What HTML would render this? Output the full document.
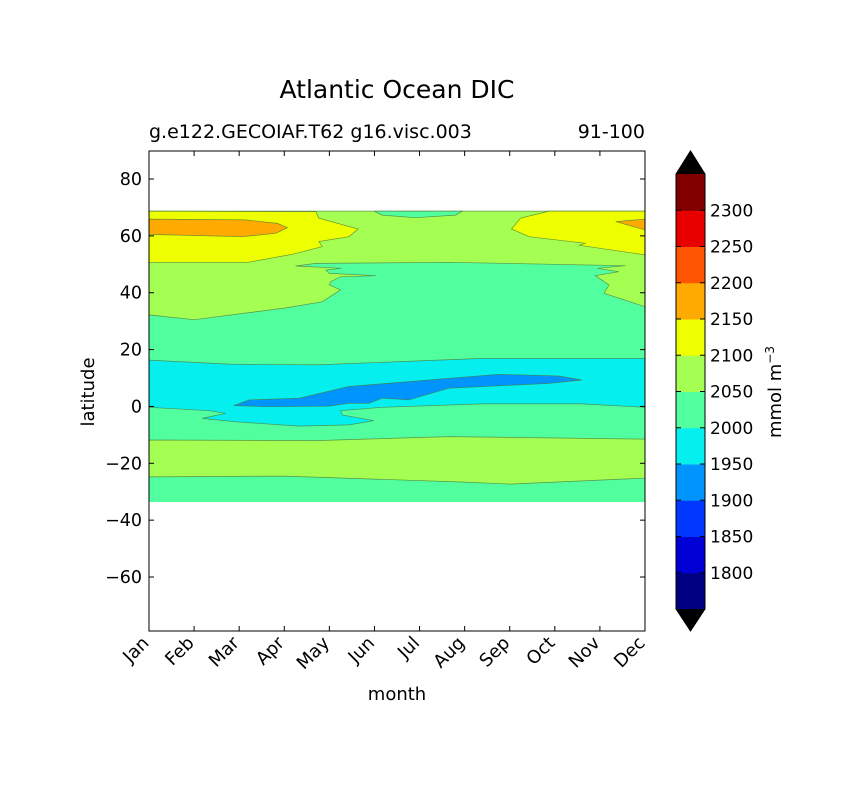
<!DOCTYPE html>
<html><head><meta charset="utf-8"><style>
body{margin:0;background:#fff}
svg text{font-family:"DejaVu Sans","Liberation Sans",sans-serif;fill:#000}
</style></head><body>
<svg id="c" width="866" height="783" xmlns="http://www.w3.org/2000/svg">
<rect width="866" height="783" fill="#fff"/>
<g id="fills"></g>
<g id="axes"></g>
</svg>
<script>
const months=["Jan","Feb","Mar","Apr","May","Jun","Jul","Aug","Sep","Oct","Nov","Dec"];
const yTicks=[80,60,40,20,0,-20,-40,-60];
const levels=[1750,1800,1850,1900,1950,2000,2050,2100,2150,2200,2250,2300,2350];
const levelColors=["#000080","#0000d6","#0038ff","#0094ff","#06efef","#52ff9f","#a5ff52","#eeff00","#ffaa00","#ff5500","#e80000","#800000"];
const cbLabels=[1800,1850,1900,1950,2000,2050,2100,2150,2200,2250,2300];
const latTop=68.7, latBot=-33.6;
const regBase=[[0,latTop],[11,latTop],[11,latBot],[0,latBot]];
const regSouthGreen=[[0,-11.8],[3.7,-12],[6.65,-10.6],[11,-11.5],[11,-25.2],[8,-27.3],[7,-26.6],[3,-24.5],[0,-24.8]];
const regNorthGreen=[[0,latTop],[11,latTop],[11,35.1],[10.09,39.8],[10.2,42.7],[9.9,46],[10.42,47.4],[9.94,48.6],[10.57,49.5],[6.65,50.7],[3.7,50.3],[3.25,49.4],[4.27,48.6],[3.92,48],[4,46.8],[5.03,46],[4.25,45.6],[4.03,43.9],[4,42.7],[4.25,41],[3.84,36.8],[3,34.6],[1,30.5],[0,32.2]];
const regYellowLeft=[[0,latTop],[3.7,68.5],[3.77,66.2],[4.64,62.4],[4.43,59.7],[3.77,58],[3.84,56.2],[3.18,53.5],[2.2,50.7],[0,50.7]];
const regYellowRight=[[8.87,latTop],[11,latTop],[11,53.3],[9.53,56.7],[9.68,57.4],[8.43,59.7],[8.04,62.4],[8.24,66.2]];
const regOrangeLeft=[[0,65.9],[2.14,65.6],[2.85,64.4],[3.07,62.9],[2.81,60.9],[2.07,59.7],[0,60.5]];
const regOrangeRight=[[11,65.9],[10.35,65],[11,62.1]];
const regCyanTop=[[4.99,latTop],[5.17,67.3],[5.91,66.4],[6.8,67.3],[6.95,latTop]];
const regCyanBand=[[0,16.3],[1.77,14.9],[3.7,14.6],[7.4,16.9],[11,16.9],[11,-0.3],[9.6,0.9],[7.39,0.9],[5.17,-0.3],[4.25,-1.5],[4.29,-3],[4.99,-5],[4.43,-6.5],[3.33,-6.9],[1.92,-5.4],[1.18,-4.2],[1.7,-2.4],[1.33,-1.5],[0,-0.3]];
const regBlue=[[1.88,0.3],[2.22,2.3],[3.33,2.9],[4.43,7.0],[6.65,9.9],[7.76,11.3],[9.09,10.7],[9.6,9.3],[8.87,8.1],[6.65,6.4],[5.76,2.3],[5.17,2.9],[4.88,1.1],[4.43,1.1],[3.99,0.1],[2.59,-0.1]];
const regions=[[regBase,2000,"region-2000"],[regSouthGreen,2050,"region-south-2050"],[regNorthGreen,2050,"region-north-2050"],[regYellowLeft,2100,"region-yellow-left"],[regYellowRight,2100,"region-yellow-right"],[regOrangeLeft,2150,"region-orange-left"],[regOrangeRight,2150,"region-orange-right"],[regCyanTop,2000,"region-cyan-top"],[regCyanBand,1950,"region-cyan-band"],[regBlue,1900,"region-blue"]];

const X0=149,X1=645,Y0=151,Y1=631;
const xS=m=>X0+m*(X1-X0)/11;
const yL=l=>179+(80-l)*2.843;
const colorFor=v=>levelColors[levels.findIndex((l,i)=>v>=l&&v<levels[i+1])];
const NS="http://www.w3.org/2000/svg";
const fills=document.getElementById('fills'),axes=document.getElementById('axes');
function mk(p,tag,at,txt){const e=document.createElementNS(NS,tag);for(const k in at)e.setAttribute(k,at[k]);if(txt!==undefined)e.textContent=txt;p.appendChild(e);return e;}
regions.forEach(([pts,v,nm])=>{
  const e=mk(fills,'polygon',{points:pts.map(p=>xS(p[0]).toFixed(1)+','+yL(p[1]).toFixed(1)).join(' '),fill:colorFor(v),stroke:nm==="region-2000"?"none":"#4d7a3a","stroke-width":0.7,"stroke-opacity":0.8});
  
  
});
let f=mk(axes,'rect',{x:X0,y:Y0,width:X1-X0,height:Y1-Y0,fill:"none",stroke:"#000","stroke-width":1});

yTicks.forEach(t=>{const y=yL(t);
  mk(axes,'line',{x1:X0,x2:X0+5,y1:y,y2:y,stroke:"#000"});mk(axes,'line',{x1:X1,x2:X1-5,y1:y,y2:y,stroke:"#000"});
  const tx=mk(axes,'text',{x:142,y:y+6,"text-anchor":"end","font-size":17.5},(t<0?"\u2212"+(-t):t));
  
});
months.forEach((m,i)=>{const x=xS(i);
  mk(axes,'line',{x1:x,x2:x,y1:Y1,y2:Y1-5,stroke:"#000"});mk(axes,'line',{x1:x,x2:x,y1:Y0,y2:Y0+5,stroke:"#000"});
  const tx=mk(axes,'text',{x:x+1,y:Y1+13,"text-anchor":"end","font-size":18,transform:`rotate(-45 ${x+1} ${Y1+13})`},m);
  
});
const CX=676,CW=29,cbTop=174,cbBot=609;
const cy=v=>cbBot-(v-1750)*(cbBot-cbTop)/600;
levelColors.forEach((c,i)=>{const r=mk(axes,'rect',{x:CX,y:cy(levels[i+1]),width:CW,height:cy(levels[i])-cy(levels[i+1])+0.5,fill:c});
  });
let t1=mk(axes,'polygon',{points:`${CX},${cbTop} ${CX+CW/2},151 ${CX+CW},${cbTop}`,fill:"#000"});
let t2=mk(axes,'polygon',{points:`${CX},${cbBot} ${CX+CW/2},631 ${CX+CW},${cbBot}`,fill:"#000"});
mk(axes,'polygon',{points:`${CX},${cbTop} ${CX+CW/2},151 ${CX+CW},${cbTop} ${CX+CW},${cbBot} ${CX+CW/2},631 ${CX},${cbBot}`,fill:"none",stroke:"#000"});
cbLabels.forEach(v=>{const y=cy(v);
  mk(axes,'line',{x1:CX,x2:CX+5,y1:y,y2:y,stroke:"#000"});mk(axes,'line',{x1:CX+CW,x2:CX+CW-5,y1:y,y2:y,stroke:"#000"});
  const tx=mk(axes,'text',{x:710,y:y+6,"font-size":17},v);});
</script>
<svg style="position:absolute;left:0;top:0" width="866" height="783">
<text x="397" y="98" text-anchor="middle" font-size="25">Atlantic Ocean DIC</text>
<text x="149" y="138" font-size="19">g.e122.GECOIAF.T62 g16.visc.003</text>
<text x="645" y="138" font-size="19" text-anchor="end">91-100</text>
<text x="397" y="700" font-size="18" text-anchor="middle">month</text>
<text x="94" y="392" font-size="18" text-anchor="middle" transform="rotate(-90 94 392)">latitude</text>
<text x="781" y="392" font-size="18" text-anchor="middle" transform="rotate(-90 781 392)">mmol m<tspan font-size="12" dy="-7">−3</tspan></text>
</svg>
</body></html>
